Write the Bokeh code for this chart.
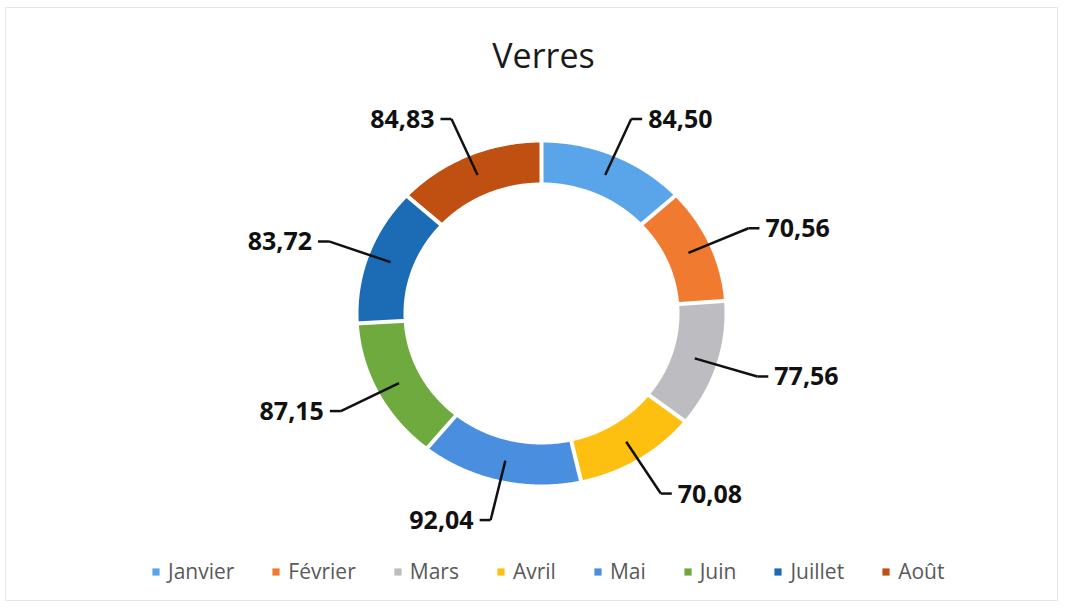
import numpy as np
from bokeh.plotting import figure
from bokeh.models import Range1d, Legend, LegendItem
from bokeh.core.properties import value
from bokeh.embed import file_html
from bokeh.resources import INLINE

# ---- data ----
months = ["Janvier", "Février", "Mars", "Avril", "Mai", "Juin", "Juillet", "Août"]
values = [84.50, 70.56, 77.56, 70.08, 92.04, 87.15, 83.72, 84.83]
value_labels = ["84,50", "70,56", "77,56", "70,08", "92,04", "87,15", "83,72", "84,83"]
colors = ["#5AA5EA", "#F07B30", "#BDBDC1", "#FDC010", "#4A8EE0", "#6EAA3E", "#1C6CB5", "#BF5012"]
title_text = "Verres"

# ---- layout ----
W, H = 1058, 601
LB, TB = 5, 7
cx, cy = 541, 313
ro_x, ro_y = 183, 171
ri_x, ri_y = 138, 131
re_x, re_y = 226, 212  # leader elbow ellipse

p = figure(width=W, height=H, x_range=Range1d(LB, W), y_range=Range1d(H, TB),
           output_backend="svg", toolbar_location=None,
           min_border_left=LB, min_border_top=TB, min_border_right=0, min_border_bottom=0,
           x_axis_location=None, y_axis_location=None)
p.grid.visible = False
p.outline_line_color = "#e6e6e6"
p.outline_line_width = 1
p.background_fill_color = "white"
p.border_fill_color = "white"

vals = np.array(values, dtype=float)
total = vals.sum()
ends = np.cumsum(vals) / total * 2 * np.pi
starts = np.concatenate([[0.0], ends[:-1]])

def ell(t, rx, ry):
    return cx + rx * np.sin(t), cy - ry * np.cos(t)

renderers = []
for a0, a1, c in zip(starts, ends, colors):
    t = np.linspace(a0, a1, 120)
    ox, oy = ell(t, ro_x, ro_y)
    ix, iy = ell(t[::-1], ri_x, ri_y)
    xs = np.concatenate([ox, ix])
    ys = np.concatenate([oy, iy])
    r = p.patch(xs, ys, fill_color=c, line_color=None)
    renderers.append(r)

# white separators between slices
x0, y0 = ell(starts, ri_x - 3, ri_y - 3)
x1, y1 = ell(starts, ro_x + 3, ro_y + 3)
p.segment(x0, y0, x1, y1, line_color="white", line_width=4)

# leader lines and labels
mids = (starts + ends) / 2
ax, ay = ell(mids, (ro_x + ri_x) / 2, (ro_y + ri_y) / 2)
ex, ey = ell(mids, re_x, re_y)
side = np.sign(np.sin(mids))
hx = ex + side * 11
p.segment(ax, ay, ex, ey, line_color="#111111", line_width=2.5)
p.segment(ex, ey, hx, ey, line_color="#111111", line_width=2.5)
for i in range(len(values)):
    p.text(x=[hx[i] + side[i] * 6], y=[ey[i]], text=[value_labels[i]],
           text_align="left" if side[i] > 0 else "right", text_baseline="middle",
           text_font=value("Open Sans"), text_font_style="bold",
           text_font_size="25px", text_color="#111111")

# title
p.text(x=[cx + 2], y=[54], text=[title_text], text_align="center", text_baseline="middle",
       text_font=value("Open Sans"), text_font_size="34px", text_color="#1a1a1a")

legend = Legend(items=[LegendItem(label=m, renderers=[r]) for m, r in zip(months, renderers)],
                orientation="horizontal", location=(146, 16))
legend.glyph_width = 9
legend.glyph_height = 9
legend.label_standoff = 8
legend.spacing = 37
legend.padding = 0
legend.margin = 0
legend.label_text_font = "Open Sans"
legend.label_text_font_size = "21px"
legend.label_text_color = "#595959"
legend.border_line_color = None
legend.background_fill_alpha = 0
p.add_layout(legend)

open("out.html", "w").write(file_html(p, INLINE))
